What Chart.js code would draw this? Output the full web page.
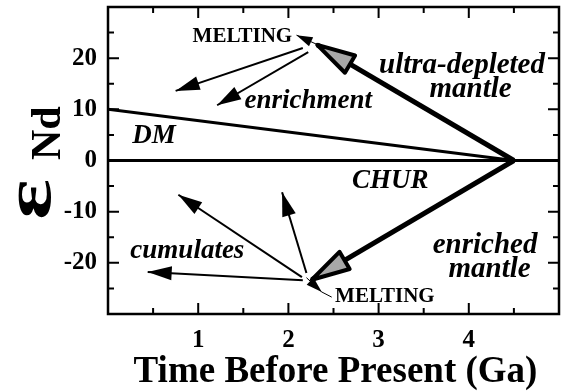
<!DOCTYPE html>
<html>
<head>
<meta charset="utf-8">
<script src="https://cdn.jsdelivr.net/npm/chart.js@4.4.1/dist/chart.umd.min.js"></script>
<style>
html,body{margin:0;padding:0;background:#fff;}
canvas{display:block;}
</style>
</head>
<body>
<canvas id="c" width="562" height="391"></canvas>
<script>
// ---- data (Time before present in Ga, epsilon Nd) ----
const chur = [[0, 0], [5, 0]];
const dm = [[0, 10], [4.5, 0]];
const ultraDepleted = [[4.5, 0], [2.32, 22.6]];
const enrichedMantle = [[4.5, 0], [2.26, -23.3]];
const enrichArrow1 = [[2.16, 22.0], [0.75, 13.6]];
const enrichArrow2 = [[2.22, 21.2], [1.21, 10.8]];
const meltTopPointer = [[2.34, 22.5], [2.09, 24.5]];
const cumArrow1 = [[2.16, -23.4], [0.44, -21.8]];
const cumArrow2 = [[2.15, -22.8], [0.78, -6.7]];
const cumArrow3 = [[2.2, -22.0], [1.93, -6.2]];
const meltBotPointer = [[2.2, -22.9], [2.37, -25.7]];
const meltBotLine = [[2.37, -25.7], [2.48, -26.7]];

const xTickLabels = ['1', '2', '3', '4'];
const yTickLabels = ['-20', '-10', '0', '10', '20'];

const labelTexts = ['MELTING', 'ultra-depleted', 'mantle', 'enrichment', 'DM', 'CHUR', 'enriched', 'mantle', 'cumulates', 'MELTING'];
const labelX = [1.49, 3.925, 4.02, 2.22, 0.51, 3.13, 4.18, 4.23, 0.88, 3.07];
const labelY = [23.1, 17.1, 12.4, 10.25, 3.4, -5.37, -18.1, -22.75, -19.0, -27.6];
const labelItalic = [false, true, true, true, true, true, true, true, true, false];

const xTitle = 'Time Before Present (Ga)';
const yTitleMain = 'ε';
const yTitleSub = 'Nd';

// ---- build ----
const SERIF = '"Liberation Serif", "DejaVu Serif", serif';
const toPts = a => a.map(p => ({x: p[0], y: p[1]}));
function ds(arr, width, arrow) {
  return {data: toPts(arr), showLine: true, borderColor: '#000', borderWidth: width,
          pointRadius: 0, pointHoverRadius: 0, fill: false, tension: 0, arrow: arrow || null,
          borderCapStyle: 'butt', borderJoinStyle: 'miter'};
}
const datasets = [
  ds(chur, 3),
  ds(dm, 3),
  ds(ultraDepleted, 5, 'thick'),
  ds(enrichedMantle, 5, 'thick'),
  ds(enrichArrow1, 2, 'thin'),
  ds(enrichArrow2, 2, 'thin'),
  ds(meltTopPointer, 1, 'small'),
  ds(cumArrow1, 2, 'thin'),
  ds(cumArrow2, 2, 'thin'),
  ds(cumArrow3, 2, 'thin'),
  ds(meltBotPointer, 1, 'small'),
  ds(meltBotLine, 1)
];

const headStyles = {
  thick: {len: 38, half: 10, fill: '#a8a8a8', stroke: '#000', lw: 4},
  thin: {len: 24, half: 7, fill: '#000', stroke: null, lw: 0},
  small: {len: 16, half: 5, fill: '#000', stroke: null, lw: 0}
};

const arrowPlugin = {
  id: 'arrows',
  afterDatasetsDraw(chart) {
    const ctx = chart.ctx;
    chart.data.datasets.forEach((d, i) => {
      if (!d.arrow) return;
      const pts = chart.getDatasetMeta(i).data;
      const p0 = pts[pts.length - 2], p1 = pts[pts.length - 1];
      const dx = p1.x - p0.x, dy = p1.y - p0.y, L = Math.hypot(dx, dy);
      const ux = dx / L, uy = dy / L, nx = -uy, ny = ux;
      const s = headStyles[d.arrow];
      const bx = p1.x - ux * s.len, by = p1.y - uy * s.len;
      ctx.save();
      ctx.beginPath();
      ctx.moveTo(p1.x, p1.y);
      ctx.lineTo(bx + nx * s.half, by + ny * s.half);
      ctx.lineTo(bx - nx * s.half, by - ny * s.half);
      ctx.closePath();
      ctx.fillStyle = s.fill;
      ctx.fill();
      if (s.stroke) {
        ctx.lineWidth = s.lw;
        ctx.strokeStyle = s.stroke;
        ctx.lineJoin = 'round';
        ctx.stroke();
      }
      ctx.restore();
    });
  }
};

const framePlugin = {
  id: 'frame',
  afterDraw(chart) {
    const ctx = chart.ctx, a = chart.chartArea;
    const xs = chart.scales.x, ys = chart.scales.y;
    ctx.save();
    ctx.strokeStyle = '#000';
    ctx.lineWidth = 2.5;
    ctx.strokeRect(a.left, a.top, a.right - a.left, a.bottom - a.top);
    ctx.lineWidth = 2;
    ctx.beginPath();
    xs.ticks.forEach(t => {
      if (t.value <= xs.min || t.value >= xs.max) return;
      const px = xs.getPixelForValue(t.value);
      const len = Number.isInteger(t.value) ? 11 : 6;
      ctx.moveTo(px, a.bottom); ctx.lineTo(px, a.bottom - len);
      ctx.moveTo(px, a.top); ctx.lineTo(px, a.top + len);
    });
    ys.ticks.forEach(t => {
      if (t.value <= ys.min || t.value >= ys.max) return;
      const py = ys.getPixelForValue(t.value);
      const len = (t.value % 10 === 0) ? 11 : 6;
      ctx.moveTo(a.left, py); ctx.lineTo(a.left + len, py);
      ctx.moveTo(a.right, py); ctx.lineTo(a.right - len, py);
    });
    ctx.stroke();

    // annotation labels
    ctx.fillStyle = '#000';
    ctx.textAlign = 'center';
    ctx.textBaseline = 'alphabetic';
    labelTexts.forEach((txt, i) => {
      const it = labelItalic[i];
      const size = txt === 'MELTING' ? 21 : (txt === 'ultra-depleted' || txt === 'mantle' || txt === 'enriched' ? 29 : 27);
      ctx.font = (it ? 'italic ' : '') + 'bold ' + size + 'px ' + SERIF;
      ctx.fillText(txt, xs.getPixelForValue(labelX[i]), ys.getPixelForValue(labelY[i]));
    });

    // x title
    ctx.font = 'bold 37px ' + SERIF;
    ctx.fillText(xTitle, (a.left + a.right) / 2 + 2, 382);

    // y title (rotated)
    ctx.save();
    ctx.translate(50, 217);
    ctx.rotate(-Math.PI / 2);
    ctx.textAlign = 'left';
    ctx.font = 'bold 68px ' + SERIF;
    ctx.scale(1.4, 1);
    ctx.fillText(yTitleMain, -2, 0);
    ctx.restore();
    ctx.save();
    ctx.translate(60, 160);
    ctx.rotate(-Math.PI / 2);
    ctx.textAlign = 'left';
    ctx.font = 'bold 42px ' + SERIF;
    ctx.fillText(yTitleSub, 0, 0);
    ctx.restore();
    ctx.restore();
  }
};

const tickFont = {family: SERIF, size: 25, weight: 'bold'};

new Chart(document.getElementById('c'), {
  type: 'scatter',
  data: {datasets},
  options: {
    responsive: false,
    animation: false,
    events: [],
    layout: {padding: {top: 7, right: 3, left: 0, bottom: 0}},
    plugins: {legend: {display: false}, tooltip: {enabled: false}},
    scales: {
      x: {
        type: 'linear', min: 0, max: 5,
        grid: {display: false, drawTicks: false},
        border: {display: false},
        ticks: {
          stepSize: 0.5, autoSkip: false, maxRotation: 0, color: '#000', font: tickFont, padding: 12,
          callback: v => (xTickLabels.includes(String(v)) ? String(v) : '')
        },
        afterFit: s => { s.height = 77; s.paddingLeft = 0; s.paddingRight = 0; }
      },
      y: {
        type: 'linear', min: -30, max: 30,
        grid: {display: false, drawTicks: false},
        border: {display: false},
        ticks: {
          stepSize: 5, autoSkip: false, color: '#000', font: tickFont, padding: 11,
          callback: v => (yTickLabels.includes(String(v)) ? String(v) : '')
        },
        afterFit: s => { s.width = 108; s.paddingTop = 0; s.paddingBottom = 0; }
      }
    }
  },
  plugins: [arrowPlugin, framePlugin]
});
</script>
</body>
</html>
